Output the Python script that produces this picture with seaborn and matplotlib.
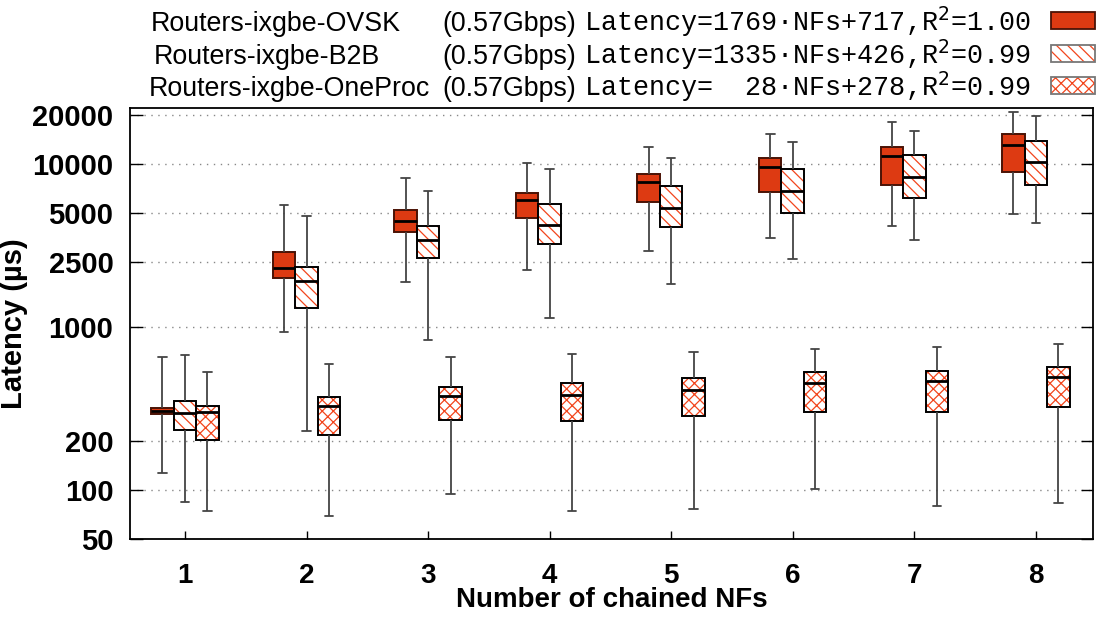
import pandas as pd
import matplotlib
matplotlib.use("Agg")
import matplotlib.pyplot as plt
from matplotlib.patches import PathPatch, Rectangle
from matplotlib.ticker import NullLocator
import seaborn as sns

nfs = [1, 2, 3, 4, 5, 6, 7, 8]
series = ["Routers-ixgbe-OVSK", "Routers-ixgbe-B2B", "Routers-ixgbe-OneProc"]
rate = "(0.57Gbps)"
fits = ["Latency=1769·NFs+717,R$^{2}$=1.00",
        "Latency=1335·NFs+426,R$^{2}$=0.99",
        "Latency=  28·NFs+278,R$^{2}$=0.99"]
ytick_vals = [50, 100, 200, 1000, 2500, 5000, 10000, 20000]

# box stats: whisker low, q1, median, q3, whisker high (us)
ovsk_lo = [128, 928, 1888, 2227, 2914, 3502, 4183, 4932]
ovsk_q1 = [291, 1990, 3808, 4642, 5824, 6708, 7470, 8935]
ovsk_med = [305, 2312, 4452, 6018, 7754, 9634, 11250, 13090]
ovsk_q3 = [317, 2898, 5206, 6612, 8690, 10840, 12720, 15230]
ovsk_hi = [657, 5632, 8246, 10190, 12780, 15290, 18190, 20860]

b2b_lo = [84, 230, 836, 1131, 1830, 2602, 3432, 4348]
b2b_q1 = [233, 1302, 2650, 3232, 4092, 5004, 6158, 7470]
b2b_med = [298, 1916, 3404, 4244, 5400, 6836, 8334, 10250]
b2b_q3 = [350, 2345, 4183, 5668, 7366, 9280, 11320, 13790]
b2b_hi = [676, 4775, 6860, 9368, 10840, 13710, 16020, 19800]

oneproc_lo = [74, 69, 94, 74, 76, 101, 80, 83]
oneproc_q1 = [203, 216, 268, 264, 283, 299, 302, 323]
oneproc_med = [301, 328, 377, 384, 412, 456, 466, 495]
oneproc_q3 = [329, 373, 430, 452, 486, 529, 539, 566]
oneproc_hi = [529, 593, 651, 683, 699, 733, 751, 783]

stats = {
    series[0]: (ovsk_lo, ovsk_q1, ovsk_med, ovsk_q3, ovsk_hi),
    series[1]: (b2b_lo, b2b_q1, b2b_med, b2b_q3, b2b_hi),
    series[2]: (oneproc_lo, oneproc_q1, oneproc_med, oneproc_q3, oneproc_hi),
}

# five points per box -> quartiles land exactly on them, whiskers = min/max
rows = []
for name, cols in stats.items():
    for i, nf in enumerate(nfs):
        for col in cols:
            rows.append({"nfs": nf, "series": name, "latency": col[i]})
df = pd.DataFrame(rows)

fill_red = "#dd3a12"
hatch_red = "#f2451c"
hatches = {series[0]: None, series[1]: "\\\\\\", series[2]: "xxx"}

sns.set_style("white")
plt.rcParams["font.family"] = ["Liberation Sans", "DejaVu Sans"]
plt.rcParams["hatch.linewidth"] = 0.9
for key in ["text.color", "axes.labelcolor", "xtick.color", "ytick.color"]:
    plt.rcParams[key] = "black"

fig = plt.figure(figsize=(11.03, 6.19), dpi=100)
ax = fig.add_axes([0.1179, 0.1292, 0.873, 0.6963])

for name in series:
    n_before = len(ax.patches)
    sns.boxplot(data=df[df["series"] == name], x="nfs", y="latency",
                hue="series", hue_order=series, order=nfs,
                palette={s: fill_red for s in series}, saturation=1,
                width=0.555, gap=0, dodge=True, whis=(0, 100), log_scale=True,
                linecolor="black", linewidth=1.4, legend=False, ax=ax,
                medianprops=dict(color="black", linewidth=2),
                whiskerprops=dict(color="#444444", linewidth=1.3),
                capprops=dict(color="#444444", linewidth=1.3),
                capwidths=0.07)
    boxes = ax.patches[n_before:]
    for p in boxes:
        if hatches[name]:
            under = PathPatch(p.get_path(), transform=p.get_transform(),
                              facecolor="white", edgecolor=hatch_red,
                              hatch=hatches[name], linewidth=0,
                              zorder=p.get_zorder() - 0.01)
            ax.add_artist(under)
            p.set_facecolor("none")
        else:
            p.set_edgecolor("#4a1205")

ax.set_ylim(50, 22080)
ax.set_xlim(-0.452, 7.47)
ax.set_yticks(ytick_vals, [str(v) for v in ytick_vals])
ax.yaxis.set_minor_locator(NullLocator())
ax.set_xticks(range(len(nfs)), [str(n) for n in nfs])
ax.set_axisbelow(True)
ax.grid(axis="y", linestyle=(0, (1, 4)), color="#888888", linewidth=1)
ax.grid(axis="x", visible=False)
ax.tick_params(axis="y", which="major", direction="in", length=9, width=1,
               left=True, right=True, labelsize=21, pad=12)
ax.tick_params(axis="x", direction="in", length=6, width=1,
               bottom=True, top=False, labelsize=20, pad=17)
for lab in ax.get_xticklabels() + ax.get_yticklabels():
    lab.set_fontweight("bold")
ax.set_ylabel("Latency (µs)", fontsize=21, fontweight="bold", labelpad=3)
ax.set_xlabel("Number of chained NFs", fontsize=20, fontweight="bold", labelpad=-1)
for s in ax.spines.values():
    s.set_color("black")
    s.set_linewidth(1.3)

# key above the plot, gnuplot style
W, H = 1103, 619
name_x = [151, 154, 149]
baselines = [31, 63.5, 96]
key_tops = [12, 44.5, 77]
for i, name in enumerate(series):
    yb = 1 - baselines[i] / H
    fig.text(name_x[i] / W, yb, name, fontsize=19.3, va="baseline", ha="left")
    fig.text(442 / W, yb, rate, fontsize=19.3, va="baseline", ha="left")
    fig.text(584 / W, yb, fits[i], fontsize=19.3, family="Liberation Mono",
             va="baseline", ha="left")
    x0, y0 = 1051 / W, 1 - (key_tops[i] + 17) / H
    w, h = 44 / W, 17 / H
    if hatches[name]:
        fig.add_artist(Rectangle((x0, y0), w, h, transform=fig.transFigure,
                                 facecolor="white", edgecolor=hatch_red,
                                 hatch=hatches[name], linewidth=0))
        fig.add_artist(Rectangle((x0, y0), w, h, transform=fig.transFigure,
                                 facecolor="none", edgecolor="#777777", linewidth=1.3))
    else:
        fig.add_artist(Rectangle((x0, y0), w, h, transform=fig.transFigure,
                                 facecolor=fill_red, edgecolor="#4a1205", linewidth=1.3))

fig.savefig("out.png", dpi=100)
